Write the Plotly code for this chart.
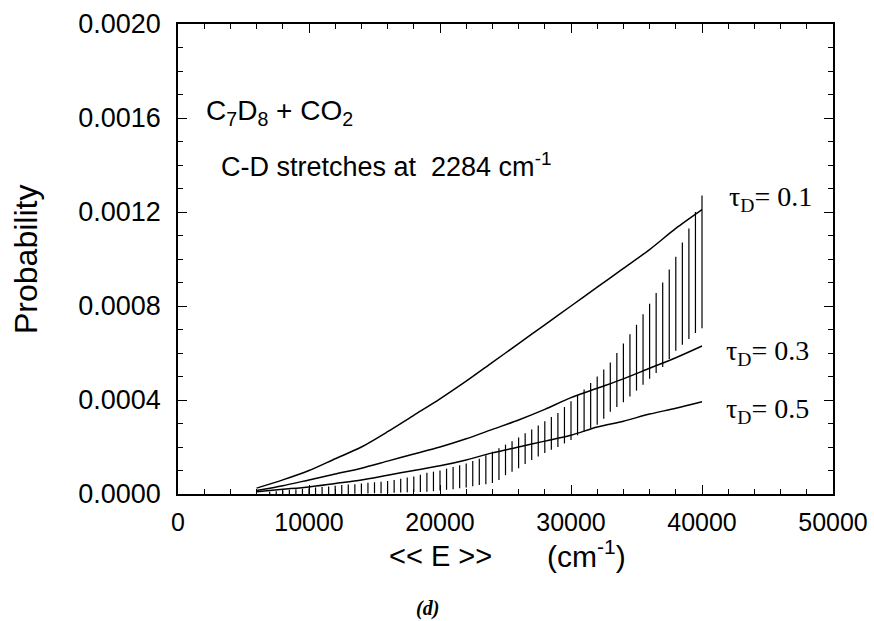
import plotly.graph_objects as go

# ---- data ----
E_curve = [6000, 8000, 10000, 12000, 14000, 16000, 18000, 20000, 22000, 24000,
           26000, 28000, 30000, 32000, 34000, 36000, 38000, 40000]
p_tau01 = [0.25, 0.6, 1.0, 1.5, 2.0, 2.65, 3.35, 4.05, 4.8, 5.6,
           6.4, 7.2, 8.0, 8.8, 9.6, 10.4, 11.3, 12.1]          # x 1e-4
p_tau03 = [0.15, 0.35, 0.6, 0.85, 1.1, 1.4, 1.7, 2.0, 2.35, 2.75,
           3.15, 3.6, 4.1, 4.5, 4.9, 5.35, 5.8, 6.3]           # x 1e-4
p_tau05 = [0.1, 0.2, 0.3, 0.45, 0.6, 0.8, 1.0, 1.2, 1.45, 1.75,
           2.0, 2.25, 2.5, 2.85, 3.1, 3.4, 3.65, 3.93]         # x 1e-4

E_band = [7000, 7500, 8000, 8500, 9000, 9500, 10000, 10500, 11000, 11500,
          12000, 12500, 13000, 13500, 14000, 14500, 15000, 15500, 16000, 16500,
          17000, 17500, 18000, 18500, 19000, 19500, 20000, 20500, 21000, 21500,
          22000, 22500, 23000, 23500, 24000, 24500, 25000, 25500, 26000, 26500,
          27000, 27500, 28000, 28500, 29000, 29500, 30000, 30500, 31000, 31500,
          32000, 32500, 33000, 33500, 34000, 34500, 35000, 35500, 36000, 36500,
          37000, 37500, 38000, 38500, 39000, 39500, 40000]
band_upper = [0.10, 0.12, 0.15, 0.18, 0.20, 0.22, 0.25, 0.28, 0.30, 0.32,
              0.35, 0.38, 0.40, 0.42, 0.45, 0.48, 0.50, 0.52, 0.55, 0.60,
              0.65, 0.70, 0.75, 0.82, 0.90, 0.95, 1.00, 1.08, 1.15, 1.22,
              1.30, 1.40, 1.50, 1.65, 1.80, 1.95, 2.10, 2.25, 2.40, 2.58,
              2.75, 2.92, 3.10, 3.28, 3.45, 3.70, 3.95, 4.20, 4.45, 4.72,
              5.00, 5.30, 5.60, 6.00, 6.40, 6.80, 7.20, 7.65, 8.10, 8.55,
              9.00, 9.55, 10.10, 10.70, 11.30, 12.00, 12.70]   # x 1e-4
band_lower = [0.0, 0.0, 0.0, 0.0, 0.0, 0.0, 0.0, 0.0, 0.0, 0.0,
              0.0, 0.0, 0.0, 0.01, 0.02, 0.025, 0.03, 0.035, 0.04, 0.05,
              0.06, 0.07, 0.08, 0.09, 0.10, 0.12, 0.15, 0.18, 0.20, 0.24,
              0.28, 0.33, 0.38, 0.42, 0.47, 0.60, 0.80, 0.95, 1.10, 1.28,
              1.45, 1.60, 1.75, 1.88, 2.00, 2.15, 2.30, 2.50, 2.65, 2.80,
              2.95, 3.20, 3.50, 3.70, 3.90, 4.15, 4.40, 4.65, 4.90, 5.15,
              5.40, 5.75, 6.10, 6.35, 6.60, 6.85, 7.05]         # x 1e-4

x_tick_vals = [0, 10000, 20000, 30000, 40000, 50000]
y_tick_vals = [0.0, 0.0004, 0.0008, 0.0012, 0.0016, 0.0020]

tau_labels = ["τ<sub>D</sub>= 0.1", "τ<sub>D</sub>= 0.3", "τ<sub>D</sub>= 0.5"]

SCALE = 1e-4
SANS = "Liberation Sans, Arial, sans-serif"
SERIF = "Liberation Serif, Times New Roman, serif"

fig = go.Figure()

# hatch band as vertical segments
hx, hy = [], []
for e, lo, hi in zip(E_band, band_lower, band_upper):
    hx += [e, e, None]
    hy += [lo * SCALE, hi * SCALE, None]
fig.add_trace(go.Scatter(x=hx, y=hy, mode="lines",
                         line=dict(color="black", width=1.2),
                         showlegend=False, hoverinfo="skip"))

for vals in (p_tau01, p_tau03, p_tau05):
    fig.add_trace(go.Scatter(x=E_curve, y=[v * SCALE for v in vals], mode="lines",
                             line=dict(color="black", width=1.5, shape="spline", smoothing=0.8),
                             showlegend=False))

L, R, T, B = 178, 41, 24, 127
fig.update_layout(
    width=874, height=621,
    margin=dict(l=L, r=R, t=T, b=B),
    paper_bgcolor="white", plot_bgcolor="white",
    font=dict(family=SANS, color="black", size=26),
    xaxis=dict(range=[0, 50000], tickvals=x_tick_vals, tickformat="d",
               ticks="inside", ticklen=9, tickwidth=1.3, tickcolor="black",
               minor=dict(dtick=2000, tick0=0, ticks="inside", ticklen=5,
                          tickwidth=1.2, tickcolor="black"),
               tickfont=dict(size=25), ticklabelstandoff=5, automargin=False,
               showline=True, linecolor="black", linewidth=1.6, mirror="allticks",
               showgrid=False, zeroline=False),
    yaxis=dict(range=[0, 0.002], tickvals=y_tick_vals, tickformat=".4f",
               ticks="inside", ticklen=9, tickwidth=1.3, tickcolor="black",
               minor=dict(dtick=0.0001, tick0=0, ticks="inside", ticklen=5,
                          tickwidth=1.2, tickcolor="black"),
               tickfont=dict(size=27), ticklabelstandoff=10, automargin=False,
               showline=True, linecolor="black", linewidth=1.6, mirror="allticks",
               showgrid=False, zeroline=False),
)

pw = 874 - L - R
ph = 621 - T - B
def px(xp):
    return (xp - L) / pw
def py(yp):
    return (621 - B - yp) / ph

ann = []
ann.append(dict(x=px(204), y=py(112), text="C<sub>7</sub>D<sub>8</sub> + CO<sub>2</sub>",
                xanchor="left", yanchor="middle", font=dict(size=28, family=SANS)))
ann.append(dict(x=px(219), y=py(165), text="C-D stretches at&nbsp; 2284 cm<sup>-1</sup>",
                xanchor="left", yanchor="middle", font=dict(size=27, family=SANS)))
for lab, xl, yl in zip(tau_labels, [727, 724, 724], [198, 352, 410]):
    ann.append(dict(x=px(xl), y=py(yl), text=lab, xanchor="left", yanchor="middle",
                    font=dict(size=28, family=SERIF)))
ann.append(dict(x=px(26), y=py(260), text="Probability", textangle=-90,
                xanchor="center", yanchor="middle", font=dict(size=32, family=SANS)))
ann.append(dict(x=px(440), y=py(556),
                text="&lt;&lt; E &gt;&gt;",
                xanchor="center", yanchor="middle", font=dict(size=29, family=SANS)))
ann.append(dict(x=px(586), y=py(554),
                text="(cm<sup>-1</sup>)",
                xanchor="center", yanchor="middle", font=dict(size=30, family=SANS)))
ann.append(dict(x=px(427), y=py(608), text="<b><i>(d)</i></b>",
                xanchor="center", yanchor="middle", font=dict(size=20, family=SERIF)))
for a in ann:
    a.update(xref="paper", yref="paper", showarrow=False)
fig.update_layout(annotations=ann)

fig.write_html("out.html")
